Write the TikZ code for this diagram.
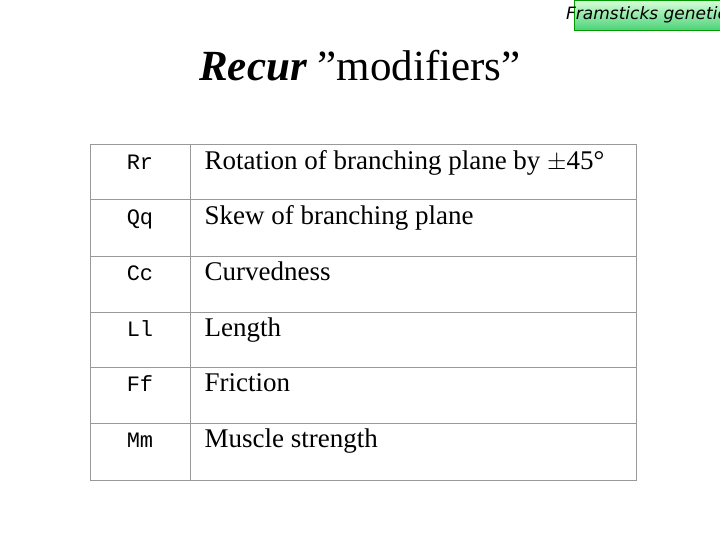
\documentclass[tikz,border=0pt]{standalone}
\usepackage{fontspec}
\setmainfont{Liberation Serif}
\setmonofont{Liberation Mono}
\newfontfamily\lsans{DejaVu Sans}
\begin{document}
\begin{tikzpicture}[x=1pt,y=-1pt,
  code/.style={font=\ttfamily\fontsize{22}{26}\selectfont,anchor=center,text height=0.7em,text depth=0.25em},
  desc/.style={font=\fontsize{27}{31}\selectfont,anchor=west,text height=0.7em,text depth=0.25em},
  grid/.style={draw=black!40,line width=1pt}]
\useasboundingbox (0,0) rectangle (720,540);
\fill[white] (0,0) rectangle (720,540);
\shade[top color=green!15!white,bottom color=green!50!teal!70,draw=green!60!black] (574,0) rectangle (722,30);
\node[anchor=west,font=\lsans\itshape\fontsize{17}{20}\selectfont,inner sep=0] (lab) at (566,15) {Framsticks genetic};
\fill[white] (720,0) rectangle (740,40);
\node (title) at (360,66) {\fontsize{43}{46}\selectfont\textbf{\textit{Recur}} ”modifiers”};
\draw[grid] (90,145) rectangle (636,480);
\draw[grid] (190,145) -- (190,480);
\foreach \y in {200,256,312,367,423} \draw[grid] (90,\y) -- (636,\y);
\foreach \c/\d/\y/\n in {Rr/{Rotation of branching plane by $\pm$45°}/167/a,Qq/Skew of branching plane/222/b,Cc/Curvedness/278/c,Ll/Length/334/d,Ff/Friction/389/e,Mm/Muscle strength/445/f}{
  \node[code] (c\n) at (140,\y) {\c};
  \node[desc] (d\n) at (201,\y) {\d};
}
\end{tikzpicture}
\end{document}
